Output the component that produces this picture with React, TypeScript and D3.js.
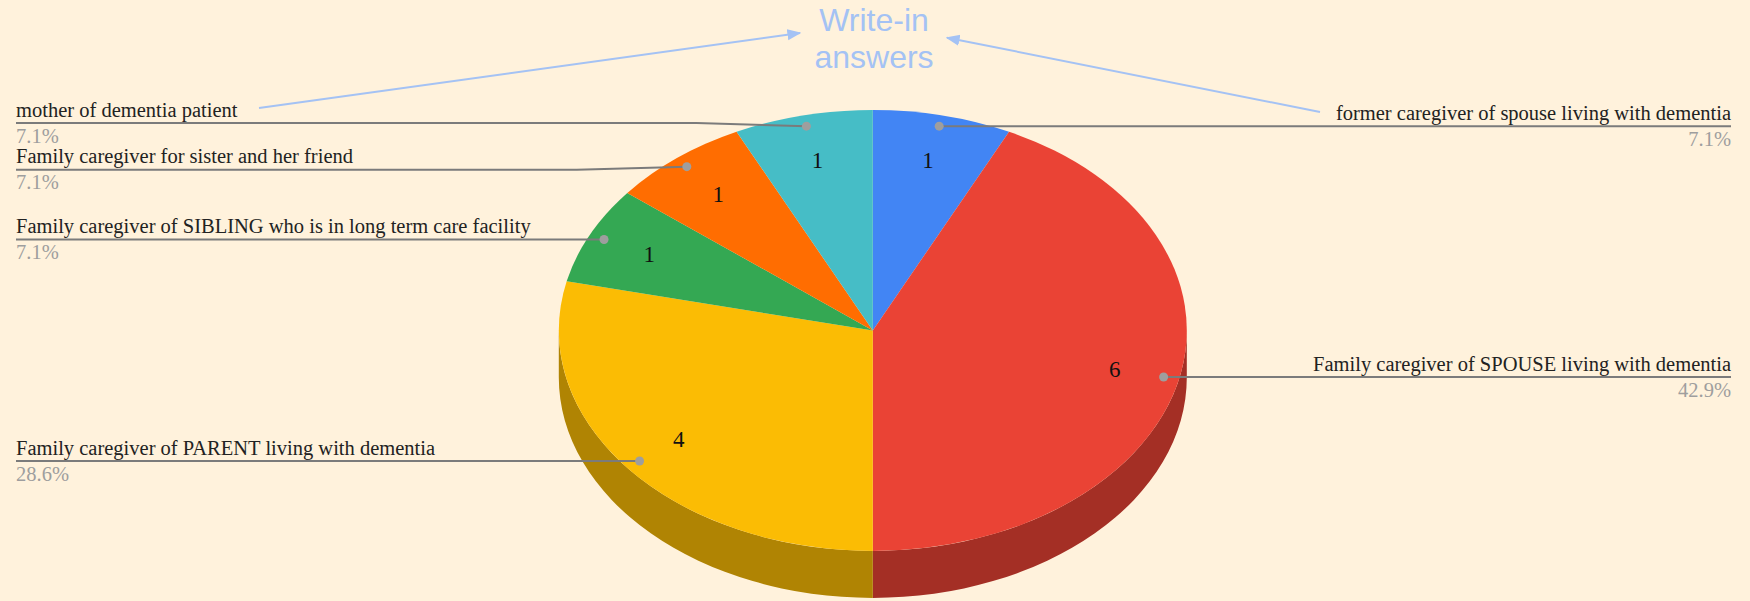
import { useEffect, useRef } from "react";
import * as d3 from "d3";

const W = 1750;
const H = 601;

// pie geometry (tilted 3D pie)
const CX = 872.8;
const CY = 330.4;
const RX = 314;
const RY = 220.5;
const DEPTH = 47;

const categories = [
  "former caregiver of spouse living with dementia",
  "Family caregiver of SPOUSE living with dementia",
  "Family caregiver of PARENT living with dementia",
  "Family caregiver of SIBLING who is in long term care facility",
  "Family caregiver for sister and her friend",
  "mother of dementia patient",
];
const counts = [1, 6, 4, 1, 1, 1];
const colors = ["#4285f4", "#ea4335", "#fbbc04", "#34a853", "#ff6d01", "#46bdc6"];

const BG = "#fff2dc";
const SERIF = "'Liberation Serif', 'Times New Roman', serif";
const NOTE_BLUE = "#a4c2f4";

const pt = (a: number, r: number, dy = 0): [number, number] => [
  CX + RX * r * Math.sin(a),
  CY - RY * r * Math.cos(a) + dy,
];

export default function App() {
  const svgRef = useRef<SVGSVGElement>(null);

  useEffect(() => {
    const svg = d3.select(svgRef.current);
    if (!svg.node()) return;
    svg.selectAll("*").remove();

    svg.append("rect").attr("width", W).attr("height", H).attr("fill", BG);

    const total = d3.sum(counts);
    const arcs = d3
      .pie<number>()
      .sort(null)
      .value((d) => d)(counts);

    // sides (front half only)
    const sides = svg.append("g");
    arcs.forEach((a, i) => {
      const s = Math.max(a.startAngle, Math.PI / 2);
      const e = Math.min(a.endAngle, (3 * Math.PI) / 2);
      if (s >= e) return;
      const [x0, y0] = pt(s, 1);
      const [x1, y1] = pt(e, 1);
      const p = `M${x0},${y0} A${RX},${RY} 0 0 1 ${x1},${y1} L${x1},${y1 + DEPTH} A${RX},${RY} 0 0 0 ${x0},${y0 + DEPTH} Z`;
      sides
        .append("path")
        .attr("d", p)
        .attr("fill", d3.rgb(colors[i]).darker(1).formatHex());
    });

    // top face
    const arcGen = d3.arc<d3.PieArcDatum<number>>().innerRadius(0).outerRadius(100);
    svg
      .append("g")
      .attr("transform", `translate(${CX},${CY}) scale(${RX / 100},${RY / 100})`)
      .selectAll("path")
      .data(arcs)
      .enter()
      .append("path")
      .attr("d", arcGen)
      .attr("fill", (_d, i) => colors[i]);

    // value labels
    svg
      .selectAll(".val")
      .data(arcs)
      .enter()
      .append("text")
      .attr("x", (d) => pt((d.startAngle + d.endAngle) / 2, 0.79)[0])
      .attr("y", (d) => pt((d.startAngle + d.endAngle) / 2, 0.79)[1])
      .attr("text-anchor", "middle")
      .attr("dominant-baseline", "central")
      .style("font-family", SERIF)
      .style("font-size", "23px")
      .attr("fill", "#111")
      .text((d) => d.data);

    // leader labels
    type Lbl = { i: number; right: boolean; dx: number; dy: number; ly: number };
    const lbls: Lbl[] = arcs.map((a, i) => {
      const mid = (a.startAngle + a.endAngle) / 2;
      const [dx, dy] = pt(mid, 0.95);
      return { i, right: mid < Math.PI, dx, dy, ly: dy };
    });
    const MIN_GAP = 46.7;
    [true, false].forEach((side) => {
      const grp = lbls.filter((l) => l.right === side).sort((a, b) => a.dy - b.dy);
      for (let k = 0; k < 10; k++) {
        for (let j = 1; j < grp.length; j++) {
          const gap = grp[j].ly - grp[j - 1].ly;
          if (gap < MIN_GAP) {
            const d = (MIN_GAP - gap) / 2;
            grp[j - 1].ly -= d;
            grp[j].ly += d;
          }
        }
      }
    });

    const LEFT_X = 16;
    const RIGHT_X = 1731;
    const lg = svg.append("g");
    lbls.forEach((l) => {
      const tx = l.right ? RIGHT_X : LEFT_X;
      const anchor = l.right ? "end" : "start";
      const path = l.right
        ? `M${l.dx},${l.dy} L${Math.min(l.dx + 110, RIGHT_X)},${l.ly} H${RIGHT_X}`
        : `M${LEFT_X},${l.ly} H${l.dx - 110} L${l.dx},${l.dy}`;
      lg.append("path")
        .attr("d", path)
        .attr("fill", "none")
        .attr("stroke", "#7b7b7b")
        .attr("stroke-width", 2);
      lg.append("circle").attr("cx", l.dx).attr("cy", l.dy).attr("r", 4.5).attr("fill", "#9e9e9e");
      lg.append("text")
        .attr("x", tx)
        .attr("y", l.ly - 6.5)
        .attr("text-anchor", anchor)
        .style("font-family", SERIF)
        .style("font-size", "20.5px")
        .attr("fill", "#222")
        .text(categories[l.i]);
      lg.append("text")
        .attr("x", tx)
        .attr("y", l.ly + 19.5)
        .attr("text-anchor", anchor)
        .style("font-family", SERIF)
        .style("font-size", "20.5px")
        .attr("fill", "#9e9e9e")
        .text(`${((counts[l.i] / total) * 100).toFixed(1)}%`);
    });

    // "Write-in answers" note with arrows
    const defs = svg.append("defs");
    defs
      .append("marker")
      .attr("id", "arr")
      .attr("viewBox", "0 0 10 10")
      .attr("refX", 9)
      .attr("refY", 5)
      .attr("markerWidth", 7)
      .attr("markerHeight", 7)
      .attr("markerUnits", "strokeWidth")
      .attr("orient", "auto")
      .append("path")
      .attr("d", "M0,1 L10,5 L0,9 Z")
      .attr("fill", NOTE_BLUE);

    const note = svg.append("g");
    [
      [259, 108, 800, 33],
      [1320, 112, 947, 37.7],
    ].forEach(([x1, y1, x2, y2]) => {
      note
        .append("line")
        .attr("x1", x1)
        .attr("y1", y1)
        .attr("x2", x2)
        .attr("y2", y2)
        .attr("stroke", NOTE_BLUE)
        .attr("stroke-width", 2)
        .attr("marker-end", "url(#arr)");
    });
    ["Write-in", "answers"].forEach((t, k) => {
      note
        .append("text")
        .attr("x", 874)
        .attr("y", 31 + k * 37)
        .attr("text-anchor", "middle")
        .style("font-family", "'Liberation Sans', Arial, sans-serif")
        .style("font-size", "32px")
        .attr("fill", NOTE_BLUE)
        .text(t);
    });
  }, []);

  return (
    <svg
      ref={svgRef}
      width={W}
      height={H}
      style={{ position: "absolute", left: 0, top: 0, display: "block" }}
    />
  );
}
